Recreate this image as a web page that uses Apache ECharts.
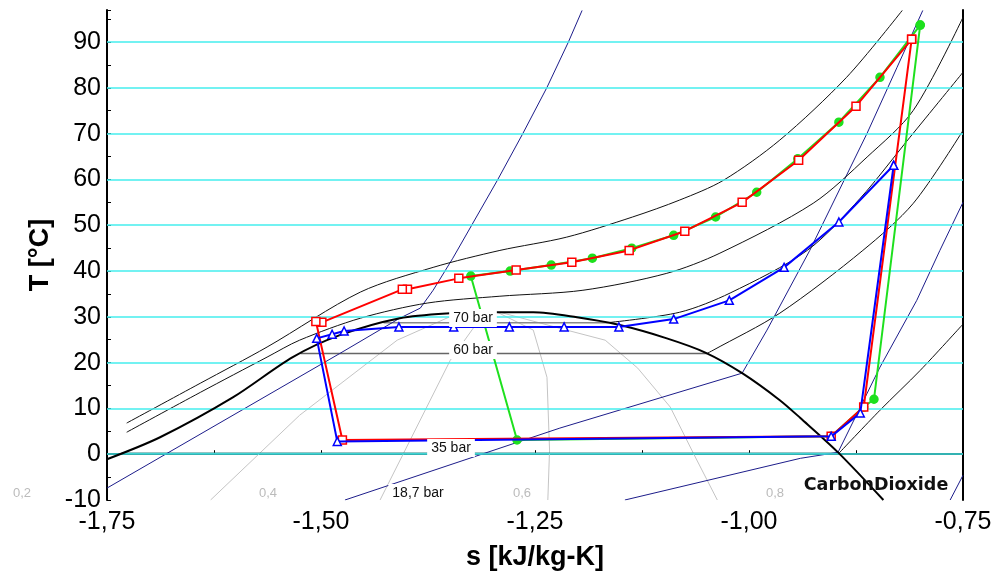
<!DOCTYPE html>
<html>
<head>
<meta charset="utf-8">
<script src="https://cdn.jsdelivr.net/npm/echarts@6/dist/echarts.min.js"></script>
<style>
  html, body { margin: 0; padding: 0; background: #fff; }
  #main { width: 1007px; height: 577px; }
</style>
</head>
<body>
<div id="main"></div>
<script>
// T-s diagram, CarbonDioxide. points are [s kJ/kg-K, T °C]
var gridTemps = [0, 10, 20, 30, 40, 50, 60, 70, 80, 90];

// saturation dome
var dome = [[-1.750, -1.1], [-1.688, 3.7], [-1.603, 12.4], [-1.533, 21.2], [-1.478, 26.0], [-1.408, 29.7],
  [-1.349, 30.8], [-1.300, 31.0], [-1.252, 31.0], [-1.201, 29.9], [-1.151, 28.2], [-1.096, 25.3],
  [-1.051, 22.2], [-1.008, 17.7], [-0.964, 11.8], [-0.940, 7.9], [-0.896, 0.4], [-0.843, -10]];

// isobars
var plateau70 = [[-1.427, 28.7], [-1.166, 28.7]];
var plateau60 = [[-1.524, 22.0], [-1.049, 22.0]];
var plateau35 = [[-1.733, 0.2], [-0.895, 0.2]];
var isobar70 = [[-1.166, 28.7], [-1.081, 31.0], [-1.022, 35.2], [-0.932, 44.5], [-0.870, 55.9], [-0.812, 69.2], [-0.750, 83.4]];
var isobar60 = [[-1.049, 22.0], [-1.042, 22.7], [-0.964, 30.8], [-0.867, 44.5], [-0.808, 54.8], [-0.750, 70.7]];
var isobar35 = [[-0.895, 0.2], [-0.847, 9.6], [-0.800, 18.3], [-0.751, 28.2]];
var isobarA = [[-1.727, 6.8], [-1.641, 15.5], [-1.563, 23.4], [-1.454, 35.4], [-1.369, 40.8], [-1.291, 44.5],
  [-1.213, 47.4], [-1.136, 51.8], [-1.081, 55.5], [-1.030, 59.8], [-0.964, 68.6], [-0.886, 82.3], [-0.821, 96.9]];
var isobarB = [[-1.727, 4.8], [-1.641, 13.5], [-1.563, 21.2], [-1.525, 24.9], [-1.454, 29.7], [-1.376, 33.0],
  [-1.291, 34.5], [-1.194, 35.8], [-1.096, 39.5], [-1.034, 43.9], [-0.925, 54.8], [-0.862, 64.9], [-0.808, 75.1], [-0.750, 95.4]];

// isochores
var isochore1 = [[-1.750, -7.4], [-1.478, 22.0], [-1.408, 29.7], [-1.384, 31.9], [-1.369, 35.8], [-1.346, 42.8],
  [-1.294, 59.8], [-1.264, 70.1], [-1.236, 80.1], [-1.211, 90.0], [-1.195, 96.9]];
var isochore2 = [[-1.472, -10], [-1.221, 5.7], [-1.008, 17.7], [-0.979, 27.1], [-0.929, 44.5], [-0.862, 70.1], [-0.827, 84.5], [-0.797, 96.9]];
var isochore3 = [[-1.145, -10], [-0.940, -0.9], [-0.896, 0.4], [-0.847, 19.0], [-0.804, 33.6], [-0.777, 44.5], [-0.750, 55.0]];
var isochore4 = [[-0.765, -10], [-0.750, -4.6]];

// vapour quality lines
var quality1 = [[-1.629, -10], [-1.525, 8.5], [-1.411, 24.9], [-1.346, 30.3], [-1.300, 31.0]];
var quality2 = [[-1.431, -10], [-1.349, 20.5], [-1.318, 28.6], [-1.300, 31.0]];
var quality3 = [[-1.235, -10], [-1.233, 0.9], [-1.236, 16.8], [-1.252, 27.1], [-1.294, 31.0]];
var quality4 = [[-1.037, -10], [-1.065, 0.2], [-1.092, 10.3], [-1.130, 18.8], [-1.168, 24.9], [-1.213, 27.1], [-1.291, 31.0]];

// cycles
var cycleGreen = [[-0.800, 93.7], [-0.847, 82.3], [-0.895, 72.5], [-0.943, 64.5], [-0.991, 57.2], [-1.039, 51.8],
  [-1.088, 47.8], [-1.137, 45.0], [-1.183, 42.8], [-1.231, 41.3], [-1.279, 40.0], [-1.325, 38.9],
  [-1.271, 3.1], [-0.904, 3.9], [-0.866, 10.3], [-0.854, 12.0], [-0.800, 93.7]];
var cycleRed = [[-0.810, 90.6], [-0.875, 76.0], [-0.942, 64.2], [-1.008, 55.0], [-1.075, 48.7], [-1.140, 44.5],
  [-1.207, 41.9], [-1.272, 40.2], [-1.339, 38.4], [-1.399, 36.0], [-1.405, 36.0], [-1.499, 28.8], [-1.506, 29.0],
  [-1.475, 3.1], [-0.904, 3.9], [-0.866, 10.3], [-0.810, 90.6]];
var cycleBlue = [[-0.831, 63.1], [-0.895, 50.7], [-0.959, 40.8], [-1.023, 33.6], [-1.088, 29.5], [-1.152, 27.8],
  [-1.216, 27.8], [-1.280, 27.8], [-1.345, 27.8], [-1.409, 27.8], [-1.473, 26.9], [-1.487, 26.2], [-1.505, 25.3],
  [-1.481, 2.8], [-0.904, 3.9], [-0.870, 9.0], [-0.831, 63.1]];

var FONT = '"Liberation Sans", Arial, sans-serif';

function curve(data, color, width, z, smooth) {
  return {
    type: 'line', data: data, z: z, smooth: smooth || false,
    symbol: 'none', silent: true,
    lineStyle: { color: color, width: width }
  };
}

function cycle(data, color, symbol, size, fill, z) {
  return {
    type: 'line', data: data, z: z, silent: true,
    symbol: symbol, symbolSize: size, showAllSymbol: true,
    lineStyle: { color: color, width: 2 },
    itemStyle: { color: fill, borderColor: color, borderWidth: 1.5 }
  };
}

function tag(text, x, y, color, size) {
  return {
    type: 'text', x: x, y: y, z: 100,
    style: {
      text: text, fill: color, fontSize: size || 14, fontFamily: FONT,
      align: 'center', verticalAlign: 'middle',
      backgroundColor: '#fff', padding: [2, 4]
    }
  };
}

var chart = echarts.init(document.getElementById('main'));

var option = {
  backgroundColor: '#fff',
  animation: false,
  grid: { left: 107, right: 44, top: 10, bottom: 77 },
  xAxis: {
    type: 'value', min: -1.75, max: -0.75, interval: 0.125,
    name: 's [kJ/kg-K]', nameLocation: 'middle', nameGap: 44,
    nameTextStyle: { fontSize: 27, fontWeight: 'bold', color: '#000', fontFamily: FONT },
    axisLine: { lineStyle: { color: '#000', width: 2 } },
    axisTick: { inside: true, length: 4, lineStyle: { color: '#000' } },
    splitLine: { show: false },
    axisLabel: {
      fontSize: 25, color: '#000', fontFamily: FONT, margin: 10,
      formatter: function (v) {
        if (Math.abs(v * 4 - Math.round(v * 4)) > 1e-6) return '';
        return v.toFixed(2).replace('.', ',');
      }
    }
  },
  yAxis: [{
    type: 'value', min: -10, max: 97, interval: 5,
    name: 'T [°C]', nameLocation: 'middle', nameGap: 46, nameRotate: 90,
    nameTextStyle: { fontSize: 27, fontWeight: 'bold', color: '#000', fontFamily: FONT },
    axisLine: { show: true, lineStyle: { color: '#000', width: 2 } },
    axisTick: { inside: true, length: 4, lineStyle: { color: '#000' } },
    splitLine: { show: false },
    axisLabel: {
      fontSize: 25, color: '#000', fontFamily: FONT, margin: 6,
      formatter: function (v) { return v % 10 === 0 ? String(v) : ''; }
    }
  }, {
    type: 'value', min: -10, max: 97, position: 'right',
    axisLine: { show: true, lineStyle: { color: '#000', width: 2 } },
    axisTick: { show: false }, axisLabel: { show: false }, splitLine: { show: false }
  }],
  graphic: [
    tag('70 bar', 473, 318, '#111'),
    tag('60 bar', 473, 350, '#111'),
    tag('35 bar', 451, 448, '#111'),
    tag('18,7 bar', 418, 493, '#111'),
    tag('0,2', 22, 493, '#bbb', 13),
    tag('0,4', 268, 493, '#bbb', 13),
    tag('0,6', 522, 493, '#bbb', 13),
    tag('0,8', 775, 493, '#bbb', 13),
    {
      type: 'text', x: 876, y: 485, z: 100,
      style: {
        text: 'CarbonDioxide', fill: '#111', fontSize: 17.5, fontWeight: 'bold',
        fontFamily: '"DejaVu Sans", sans-serif', align: 'center', verticalAlign: 'middle'
      }
    }
  ],
  series: [
    {
      type: 'line', data: [], z: 1, silent: true,
      markLine: {
        silent: true, symbol: 'none', label: { show: false },
        lineStyle: { color: '#44eeee', width: 1.5, type: 'solid' },
        data: gridTemps.map(function (t) { return { yAxis: t }; })
      }
    },
    curve(quality1, '#c4c4c4', 1, 2),
    curve(quality2, '#c4c4c4', 1, 2),
    curve(quality3, '#c4c4c4', 1, 2),
    curve(quality4, '#c4c4c4', 1, 2),
    curve(plateau70, '#8a8a8a', 1.5, 3),
    curve(plateau60, '#666', 1.5, 3),
    curve(plateau35, '#2e8585', 1.5, 3),
    curve(isochore1, '#1c1c8a', 1, 3),
    curve(isochore2, '#1c1c8a', 1, 3),
    curve(isochore3, '#1c1c8a', 1, 3),
    curve(isochore4, '#1c1c8a', 1, 3),
    curve(isobarA, '#111', 1, 4, 0.3),
    curve(isobarB, '#111', 1, 4, 0.3),
    curve(isobar70, '#111', 1, 4, 0.3),
    curve(isobar60, '#111', 1, 4, 0.3),
    curve(isobar35, '#111', 1, 4, 0.3),
    curve(dome, '#000', 2, 5, 0.3),
    cycle(cycleGreen, '#1ee01e', 'circle', 8, '#1ee01e', 6),
    cycle(cycleRed, '#ff0000', 'rect', 8, '#fff', 7),
    cycle(cycleBlue, '#0000ff', 'triangle', 8, '#fff', 8)
  ]
};

chart.setOption(option);
</script>
</body>
</html>
